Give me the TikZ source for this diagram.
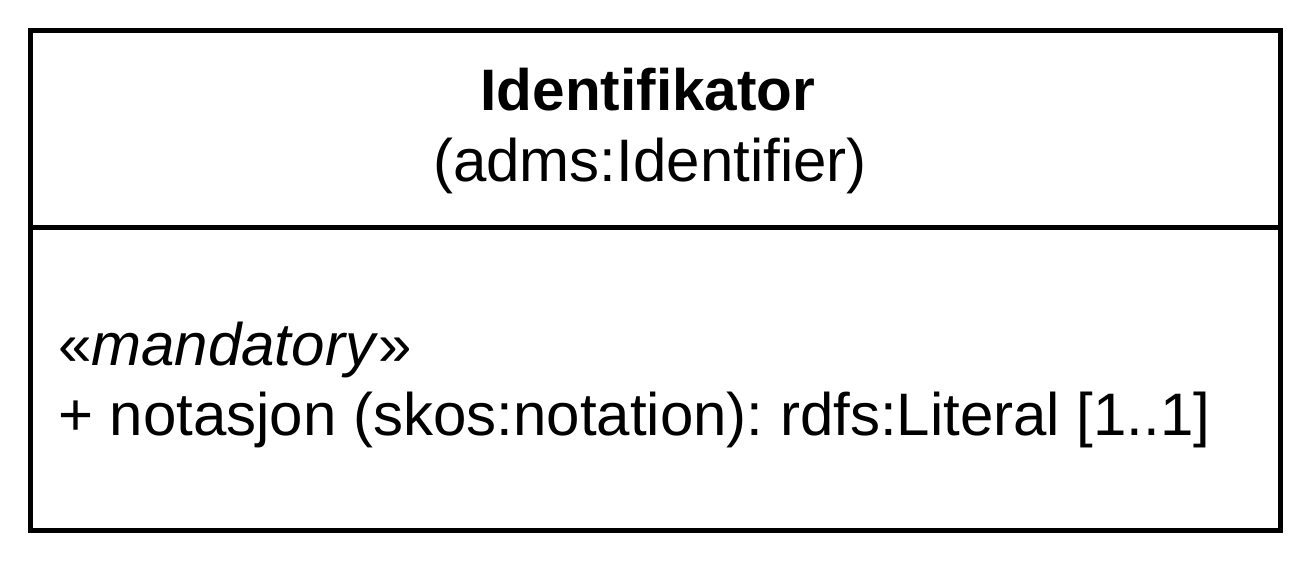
\documentclass[tikz,border=0pt]{standalone}
\usepackage{fontspec}
\setmainfont{Liberation Sans}
\frenchspacing
\begin{document}
\begin{tikzpicture}[x=1pt,y=-1pt,
  umlline/.style={line width=5pt},
  txt/.style={inner sep=0pt,font=\fontsize{60}{70}\selectfont}]
\useasboundingbox (0,0) rectangle (1305,570);
\node[draw,umlline,minimum width=1250pt,minimum height=500pt,inner sep=0pt,anchor=north west] (cls) at (27.5,27.5) {};
\coordinate (divL) at (27.5,227.5);
\coordinate (divR) at (1277.5,227.5);
\draw[umlline] (divL) -- (divR);
\node[txt,anchor=base,font=\fontsize{58.5}{70}\selectfont\bfseries] (title) at (648,110) {Identifikator};
\node[txt,anchor=base] (stereo) at (650,181) {(adms:Identifier)};
\node[txt,anchor=base west] (mand) at (58,365) {«\textit{mandatory}»};
\node[txt,anchor=base west] (attr) at (58,435) {+ notasjon (skos:notation): rdfs:Literal [1..1]};
\end{tikzpicture}
\end{document}
